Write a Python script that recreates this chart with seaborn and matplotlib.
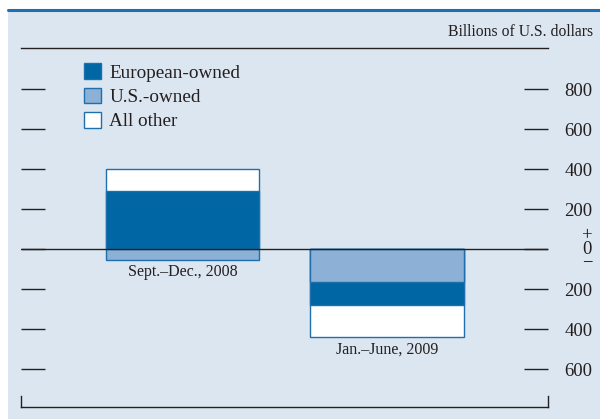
import matplotlib
matplotlib.use("Agg")
import matplotlib.pyplot as plt
from matplotlib.patches import Patch, Rectangle
from matplotlib.lines import Line2D
import numpy as np
import seaborn as sns

# data (billions of U.S. dollars)
periods = ["Sept.\u2013Dec., 2008", "Jan.\u2013June, 2009"]
european = [290, -115]
us_owned = [-55, -165]
all_other = [110, -160]

y_ticks = [-600, -400, -200, 0, 200, 400, 600, 800]
y_tick_labels = ["600", "400", "200", "+\n0\n\u2212", "200", "400", "600", "800"]

BG = "#dce6f0"
DARK = "#0066a4"
LIGHT = "#8cb0d6"
EDGE = "#1f6fae"
INK = "#231f20"

sns.set_style("white")
plt.rcParams["font.family"] = ["Liberation Serif", "DejaVu Serif"]

# stack order from zero outward: U.S.-owned, European-owned, all other
layers = [("U.S.-owned", us_owned, LIGHT),
          ("European-owned", european, DARK),
          ("All other", all_other, "white")]
pos = np.zeros(len(periods))
neg = np.zeros(len(periods))
ends = []
for name, vals, color in layers:
    vals = np.asarray(vals, dtype=float)
    end = np.where(vals >= 0, pos + vals, neg + vals)
    pos = np.where(vals >= 0, end, pos)
    neg = np.where(vals < 0, end, neg)
    ends.append((end, color))

fig = plt.figure(figsize=(6, 4.19), dpi=100)
fig.patch.set_facecolor("white")
fig.add_artist(Rectangle((8 / 600, 0), 1, 409 / 419, transform=fig.transFigure,
                         facecolor=BG, edgecolor="none", zorder=-10))
fig.add_artist(Line2D([8 / 600, 1], [408.5 / 419] * 2, color=EDGE, lw=2.2))

ax = fig.add_axes([21 / 600, 12 / 419, 527 / 600, 359 / 419])
ax.set_facecolor("none")

# overlay cumulative bars, outermost first
for end, color in reversed(ends):
    sns.barplot(x=periods, y=end, color=color, saturation=1, width=0.75,
                edgecolor=EDGE, linewidth=1, ax=ax, zorder=2)

ax.axhline(0, color=INK, lw=1, zorder=3)
ax.set_xlim(-0.79, 1.787)
ax.set_ylim(-790, 1005)
ax.set_xticks([])
ax.set_xlabel("")
ax.set_ylabel("")

ax.set_yticks(y_ticks, y_tick_labels)
ax.tick_params(axis="y", direction="in", length=17, width=1, color=INK,
               left=True, right=True, labelleft=False, labelright=True,
               pad=32, labelsize=13.5, labelcolor=INK)
for tick in ax.yaxis.get_major_ticks():
    tick.label2.set_horizontalalignment("right")
    tick.label2.set_verticalalignment("center_baseline")
    tick.label2.set_multialignment("center")
    tick.label2.set_linespacing(0.76)

for side in ["top", "bottom", "left", "right"]:
    ax.spines[side].set_color(INK)
    ax.spines[side].set_linewidth(1)
ax.spines["left"].set_bounds(-790, -735)
ax.spines["right"].set_bounds(-790, -735)

# period labels under each bar
lowest = np.minimum(neg, 0)
for i, p in enumerate(periods):
    ax.annotate(p, xy=(i, lowest[i]), xytext=(0, -3), textcoords="offset points",
                ha="center", va="top", fontsize=11.5, color=INK)

fig.text(593 / 600, 1 - 32 / 419, "Billions of U.S. dollars", ha="right",
         va="center", fontsize=11.3, color=INK)

handles = [Patch(facecolor=DARK, edgecolor=EDGE, label="European-owned"),
           Patch(facecolor=LIGHT, edgecolor=EDGE, label="U.S.-owned"),
           Patch(facecolor="white", edgecolor=EDGE, label="All other")]
fig.legend(handles=handles, loc="upper left", bbox_to_anchor=(84 / 600, 1 - 63.5 / 419),
           frameon=False, fontsize=13.8, handlelength=0.88, handleheight=0.88,
           handletextpad=0.45, labelspacing=0.3, borderpad=0, borderaxespad=0,
           labelcolor=INK)

fig.savefig("out.png", dpi=100, facecolor="white")
